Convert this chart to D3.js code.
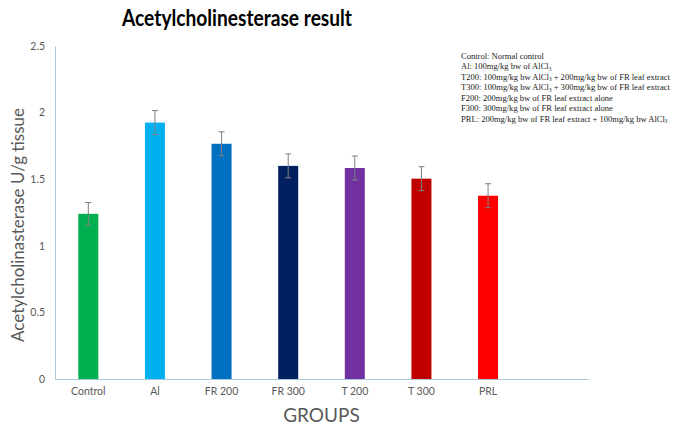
<!DOCTYPE html>
<html>
<head>
<meta charset="utf-8">
<script src="https://cdn.jsdelivr.net/npm/d3@7"></script>
<style>
  body { margin: 0; background: #fff; }
  svg { display: block; }
</style>
</head>
<body>
<svg id="chart" width="677" height="426"></svg>
<script>
// data
const groups = ["Control", "Al", "FR 200", "FR 300", "T 200", "T 300", "PRL"];
const means = [1.24, 1.925, 1.766, 1.60, 1.584, 1.504, 1.376];
const errors = [0.085, 0.09, 0.09, 0.09, 0.09, 0.09, 0.09];
const colors = ["#00B050", "#00B0F0", "#0070C0", "#002060", "#7030A0", "#C00000", "#FF0000"];
const yTicks = [0, 0.5, 1, 1.5, 2, 2.5];
// legend lines: plain text, subscript, plain text ...
const legendLines = [
    ["Control: Normal control"],
    ["Al:  100mg/kg  bw of AlCl", "3", ""],
    ["T200: 100mg/kg  bw AlCl", "3", " + 200mg/kg  bw of FR leaf extract"],
    ["T300: 100mg/kg  bw AlCl", "3", " + 300mg/kg  bw of FR leaf extract"],
    ["F200: 200mg/kg  bw of FR leaf extract  alone"],
    ["F300: 300mg/kg  bw of FR leaf extract  alone"],
    ["PRL: 200mg/kg  bw of FR leaf extract + 100mg/kg  bw AlCl", "3", ""]
];

const svg = d3.select("#chart");
const margin = { top: 46, left: 55, right: 89, bottom: 47 };
const width = 677 - margin.left - margin.right;
const height = 426 - margin.top - margin.bottom;
const axisColor = "#A9C9D6";
const textColor = "#595959";

const chart = svg.append("g")
    .attr("transform", `translate(${margin.left},${margin.top})`);

// Scales: one empty slot on the right, like the original
const xScale = d3.scaleBand()
    .domain(groups.concat([""]))
    .range([0, width]);

const yScale = d3.scaleLinear()
    .domain([0, 2.5])
    .range([height, 0]);

const barWidth = 20;

// Axes
const xAxis = chart.append("g")
    .attr("transform", `translate(0,${height})`)
    .call(d3.axisBottom(xScale).tickSize(0).tickPadding(9));
xAxis.select(".domain").attr("stroke", axisColor);
xAxis.selectAll("text")
    .attr("fill", textColor)
    .style("font-family", "Lato, 'Open Sans', sans-serif")
    .style("font-size", "10.5px");

const yAxis = chart.append("g")
    .call(d3.axisLeft(yScale).tickValues(yTicks).tickSize(0).tickPadding(10)
        .tickFormat(d3.format("")));
yAxis.select(".domain").attr("stroke", axisColor);
yAxis.selectAll("text")
    .attr("fill", textColor)
    .style("font-family", "Lato, 'Open Sans', sans-serif")
    .style("font-size", "10.5px");

// Bars
chart.selectAll(".bar")
    .data(groups)
    .enter().append("rect")
    .attr("class", "bar")
    .attr("x", d => xScale(d) + xScale.bandwidth() / 2 - barWidth / 2)
    .attr("y", (d, i) => yScale(means[i]))
    .attr("width", barWidth)
    .attr("height", (d, i) => height - yScale(means[i]))
    .attr("fill", (d, i) => colors[i]);

// Error bars
const err = chart.selectAll(".err")
    .data(groups)
    .enter().append("g")
    .attr("class", "err")
    .attr("stroke", "#808080")
    .attr("stroke-width", 1);

err.append("line")
    .attr("x1", d => xScale(d) + xScale.bandwidth() / 2)
    .attr("x2", d => xScale(d) + xScale.bandwidth() / 2)
    .attr("y1", (d, i) => yScale(means[i] - errors[i]))
    .attr("y2", (d, i) => yScale(means[i] + errors[i]));

err.append("line")
    .attr("x1", d => xScale(d) + xScale.bandwidth() / 2 - 3)
    .attr("x2", d => xScale(d) + xScale.bandwidth() / 2 + 3)
    .attr("y1", (d, i) => yScale(means[i] + errors[i]))
    .attr("y2", (d, i) => yScale(means[i] + errors[i]));

err.append("line")
    .attr("x1", d => xScale(d) + xScale.bandwidth() / 2 - 3)
    .attr("x2", d => xScale(d) + xScale.bandwidth() / 2 + 3)
    .attr("y1", (d, i) => yScale(means[i] - errors[i]))
    .attr("y2", (d, i) => yScale(means[i] - errors[i]));

// Axis labels
chart.append("text")
    .attr("x", width / 2)
    .attr("y", height + 43)
    .attr("text-anchor", "middle")
    .attr("fill", textColor)
    .style("font-family", "Lato, 'Open Sans', sans-serif")
    .style("font-size", "19px")
    .text("GROUPS");

svg.append("text")
    .attr("transform", "rotate(-90)")
    .attr("x", -225)
    .attr("y", 24)
    .attr("text-anchor", "middle")
    .attr("fill", textColor)
    .style("font-family", "Lato, 'Open Sans', sans-serif")
    .style("font-size", "17px")
    .text("Acetylcholinasterase U/g tissue");

// Title
svg.append("text")
    .attr("x", 237)
    .attr("y", 26)
    .attr("text-anchor", "middle")
    .attr("fill", "#000")
    .attr("textLength", 230)
    .attr("lengthAdjust", "spacingAndGlyphs")
    .style("font-family", "Lato, 'Open Sans', sans-serif")
    .style("font-weight", "bold")
    .style("font-size", "22px")
    .text("Acetylcholinesterase result");

// Legend text block
const legend = svg.append("g")
    .attr("transform", "translate(461,59)")
    .style("font-family", "'Liberation Serif', 'Times New Roman', serif")
    .style("font-size", "9px")
    .style("white-space", "pre")
    .attr("fill", "#1a1a1a");

const legendTexts = legendLines.map((parts, i) => {
    const t = legend.append("text").attr("y", i * 10.5);
    parts.forEach((p, j) => {
        const ts = t.append("tspan").text(p);
        if (j % 2 === 1) {
            ts.attr("baseline-shift", "-1.5px").style("font-size", "5.5px");
        }
    });
    return t;
});

// squeeze the block so the T200 line is as wide as in the original
const widest = legendTexts[2].node().getComputedTextLength();
const k = Math.min(1, 209 / widest);
legend.attr("transform", `translate(461,59) scale(${k},1)`);
</script>
</body>
</html>
